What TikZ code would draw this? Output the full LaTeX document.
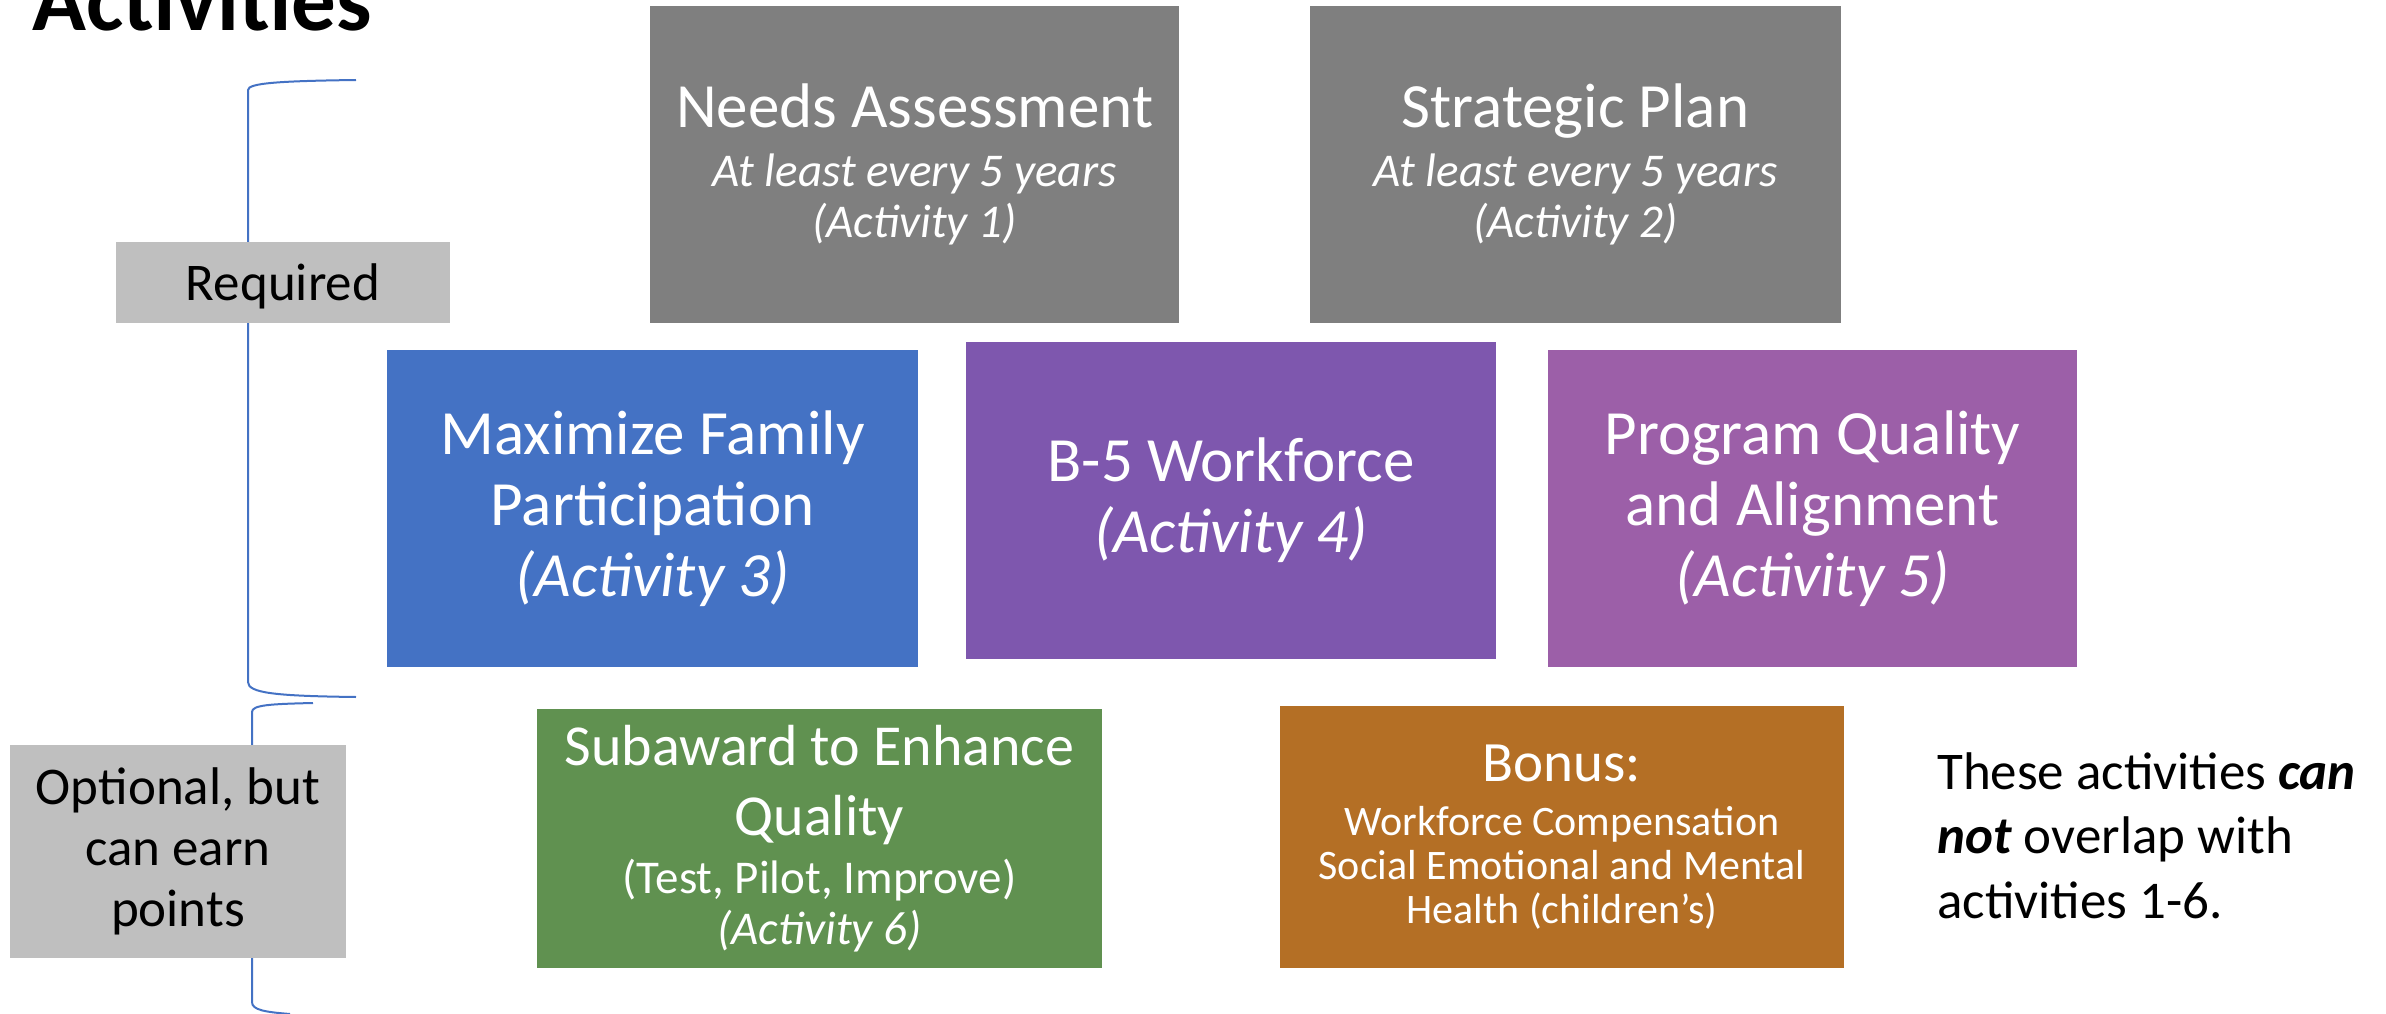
\documentclass[tikz,border=0pt]{standalone}
\usepackage{fontspec}
\setmainfont{Carlito}
\definecolor{tilegray}{HTML}{7F7F7F}
\definecolor{tileblue}{HTML}{4472C4}
\definecolor{tileviolet}{HTML}{7E57AE}
\definecolor{tileplum}{HTML}{9C5FA8}
\definecolor{tilegreen}{HTML}{609150}
\definecolor{tileorange}{HTML}{B46F25}
\definecolor{labelgray}{HTML}{BFBFBF}
\definecolor{bracecol}{HTML}{4472C4}
\newcommand\fsTitle{\fontsize{89}{100}\selectfont\bfseries}
\newcommand\fsHead{\fontsize{63}{71}\selectfont}
\newcommand\fsMid{\fontsize{58}{70}\selectfont}
\newcommand\fsSub{\fontsize{47}{57}\selectfont}
\newcommand\fsSmall{\fontsize{42}{44}\selectfont}
\newcommand\fsLabel{\fontsize{53}{61}\selectfont}
\newcommand\fsNote{\fontsize{53}{64.5}\selectfont}
\begin{document}
\begin{tikzpicture}[x=1pt,y=-1pt,
  tile/.style n args={3}{fill=#1, minimum width=#2, minimum height=#3,
    inner sep=0pt, text=white, align=center},
  tag/.style n args={2}{fill=labelgray, minimum width=#1, minimum height=#2,
    inner sep=0pt, text=black, align=center, font=\fsLabel},
  brace/.style={draw=bracecol, line width=2pt}]
\useasboundingbox (0,0) rectangle (2386,1014);

% title
\node[anchor=base west, inner sep=0pt, font=\fsTitle] (title) at (32,31) {Activities};

% braces grouping the activities
\draw[brace] (356,80) .. controls (280,81) and (248,83) .. (248,90)
  -- (248,270) .. controls (248,280) and (246,283) .. (236,283)
  .. controls (246,283) and (248,286) .. (248,296)
  -- (248,682) .. controls (248,693) and (275,696) .. (356,697);
\draw[brace] (313,703) .. controls (270,704) and (252,705) .. (252,712)
  -- (252,840) .. controls (252,848) and (250,851) .. (240,851)
  .. controls (250,851) and (252,854) .. (252,862)
  -- (252,1002) .. controls (252,1010) and (265,1012) .. (290,1014);

% group labels
\node[tag={334}{81}, text depth=0pt] (req) at (283,282.5) {Required};
\node[tag={336}{213}] (opt) at (178,851.5) {Optional, but\\can earn\\points};

% required activities
\node[tile={tilegray}{529}{317}, font=\fsSub] (na) at (914.5,164.5)
  {{\fsHead Needs Assessment}\\[2pt]\textit{At least every 5 years}\\[-6pt]\textit{(Activity 1)}};
\node[tile={tilegray}{531}{317}, font=\fsSub] (sp) at (1575.5,164.5)
  {{\fsHead Strategic Plan}\\[2pt]\textit{At least every 5 years}\\[-6pt]\textit{(Activity 2)}};
\node[tile={tileblue}{531}{317}, font=\fsHead] (mf) at (652.5,508.5)
  {Maximize Family\\Participation\\\textit{(Activity 3)}};
\node[tile={tileviolet}{530}{317}, font=\fsHead] (bw) at (1231,500.5)
  {B-5 Workforce\\\textit{(Activity 4)}};
\node[tile={tileplum}{529}{317}, font=\fsHead] (pq) at (1812.5,508.5)
  {Program Quality\\and Alignment\\\textit{(Activity 5)}};

% optional activities
\node[tile={tilegreen}{565}{259}, font=\fsSub] (sa) at (819.5,838.5)
  {{\fsMid Subaward to Enhance}\\[13pt]{\fsMid Quality}\\[1pt](Test, Pilot, Improve)\\[-6pt]\textit{(Activity 6)}};
\node[tile={tileorange}{564}{262}, font=\fsSmall] (bo) at (1562,837)
  {{\fontsize{57}{68}\selectfont Bonus:}\\[10pt]Workforce Compensation\\Social Emotional and Mental\\Health (children’s)};

% side note
\node[anchor=base west, inner sep=0pt, align=left, font=\fsNote] (note) at (1937,918)
  {These activities \textbf{\textit{can}}\\\textbf{\textit{not}} overlap with\\activities 1-6.};
\end{tikzpicture}
\end{document}
